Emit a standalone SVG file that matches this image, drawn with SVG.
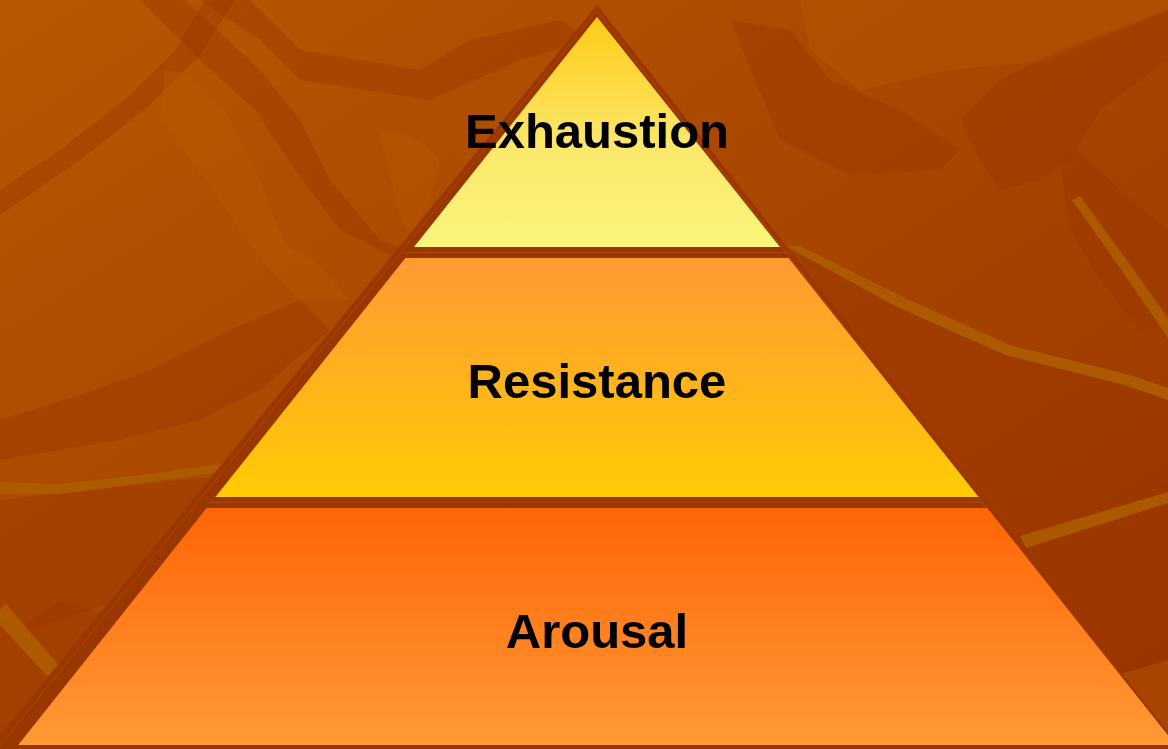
<svg xmlns="http://www.w3.org/2000/svg" width="1168" height="749" viewBox="0 0 1168 749">
<defs>
<linearGradient id="bg" x1="0" y1="0" x2="1" y2="1">
<stop offset="0" stop-color="#b85800"/>
<stop offset="0.5" stop-color="#a84500"/>
<stop offset="1" stop-color="#9a3400"/>
</linearGradient>
<linearGradient id="gEx" x1="0" y1="0" x2="0" y2="1">
<stop offset="0" stop-color="#ffcb16"/>
<stop offset="0.55" stop-color="#fbe76a"/>
<stop offset="1" stop-color="#f9f67c"/>
</linearGradient>
<linearGradient id="gRe" x1="0" y1="0" x2="0" y2="1">
<stop offset="0" stop-color="#ff9933"/>
<stop offset="1" stop-color="#ffcc05"/>
</linearGradient>
<linearGradient id="gAr" x1="0" y1="0" x2="0" y2="1">
<stop offset="0" stop-color="#ff6506"/>
<stop offset="1" stop-color="#ff9a36"/>
</linearGradient>
<style>
.dk{fill:#9a3400;opacity:0.4}
.lt{fill:#bb5a00;opacity:0.4}
.gd{fill:#ad5c00;opacity:0.9}
.edge{fill:#9a3600}
.thin{fill:none;stroke:#ad4608;stroke-width:1}
.lbl{font-family:"Liberation Sans",Arial,sans-serif;font-weight:bold;font-size:49px;fill:#000;text-anchor:middle}
</style>
</defs>
<g id="background">
<rect x="0" y="0" width="1168" height="749" fill="url(#bg)"/>
<polygon class="dk" points="0,190 60,150 130,95 175,50 205,0 235,0 200,55 150,105 80,160 0,215"/>
<polygon class="dk" points="140,0 185,0 260,70 300,120 330,180 380,240 420,255 400,260 340,230 295,170 255,110 200,60"/>
<polygon class="dk" points="200,0 250,0 300,50 420,70 470,40 560,20 590,40 520,60 430,100 300,80 260,40"/>
<polygon class="lt" points="165,70 190,75 225,110 260,180 285,245 315,260 350,300 300,300 270,270 240,230 205,180 160,120"/>
<polygon class="lt" points="378,128 420,140 440,160 430,200 410,235 400,215"/>
<polygon class="dk" points="0,420 80,395 150,370 230,330 300,300 330,330 260,390 200,420 120,440 0,460"/>
<polygon class="dk" points="0,500 230,475 250,510 200,560 120,600 0,640"/>
<polygon class="dk" points="0,640 60,600 120,620 90,680 40,749 0,749"/>
<polygon class="gd" points="0,482 60,484 150,474 235,462 235,470 150,482 60,494 0,494"/>
<polygon class="gd" points="0,610 6,604 68,676 60,690 0,625"/>
<polygon class="lt" points="800,0 1168,0 1168,10 1050,60 950,70 860,90 810,50"/>
<polygon class="dk" points="730,20 790,30 830,80 900,110 960,150 940,170 850,175 780,140"/>
<polygon class="dk" points="960,120 1000,80 1060,50 1168,10 1168,60 1100,110 1070,160 1040,180 1000,190 980,160"/>
<polygon class="dk" points="1060,160 1080,150 1120,190 1168,230 1168,330 1140,330 1100,280 1070,230"/>
<polygon class="dk" points="790,250 900,300 1000,350 1168,400 1168,749 1060,749 1000,650 900,560 800,500"/>
<polygon class="gd" points="786,246 800,246 905,298 1010,345 1130,375 1168,388 1168,400 1125,385 1005,355 895,306"/>
<polygon class="gd" points="1072,200 1080,196 1128,262 1168,318 1168,338 1120,268"/>
<polygon class="gd" points="1020,536 1168,492 1168,503 1026,548"/>
<polygon class="lt" points="1100,680 1168,660 1168,749 1120,749"/>
</g>
<g id="pyramid-frame">
<polygon class="edge" points="597,5 1190,760 -20,760"/>
<polygon class="thin" points="597,11 1183,760 -12,760"/>
<line class="thin" x1="405" y1="252.5" x2="790" y2="252.5"/>
<line class="thin" x1="210" y1="502.5" x2="985" y2="502.5"/>
</g>
<g id="node-exhaustion">
<polygon points="597,17 780,247 414,247" fill="url(#gEx)"/>
<text class="lbl" x="597" y="148">Exhaustion</text>
</g>
<g id="node-resistance">
<polygon points="405.4,258 788.6,258 978.6,497 215.4,497" fill="url(#gRe)"/>
<text class="lbl" x="597" y="398">Resistance</text>
</g>
<g id="node-arousal">
<polygon points="206.7,508 987.3,508 1175.8,745 18.2,745" fill="url(#gAr)"/>
<text class="lbl" x="597" y="648">Arousal</text>
</g>
</svg>
